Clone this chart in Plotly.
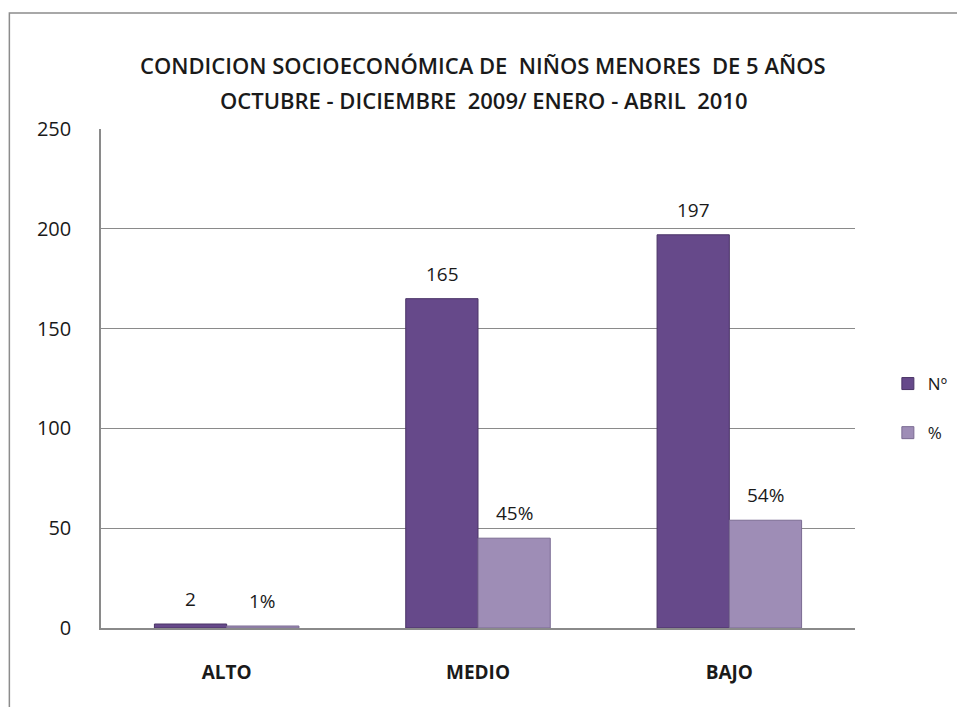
import plotly.graph_objects as go

categories = ["ALTO", "MEDIO", "BAJO"]
num_values = [2, 165, 197]
pct_values = [1, 45, 54]
pct_labels = ["1%", "45%", "54%"]
title_lines = ["CONDICION SOCIOECONÓMICA DE  NIÑOS MENORES  DE 5 AÑOS",
               "OCTUBRE - DICIEMBRE  2009/ ENERO - ABRIL  2010"]

# page has an 8px body margin, so figure coords = reference px - 8
OFF = 8
W, H = 957, 699
ML, MR, MT, MB = 93, 107, 121, 79
PW, PH = W - ML - MR, H - MT - MB

def px_x(p):
    return (p - OFF - ML) / PW

def px_y(p):
    return (H - MB - (p - OFF)) / PH

FONT = "Open Sans, sans-serif"
TXT = "#1a1a1a"

fig = go.Figure()
fig.add_trace(go.Bar(
    name="Nº", x=categories, y=num_values,
    marker=dict(color="#66498A", line=dict(color="#4A3466", width=1)),
    legendgroup="a",
))
fig.add_trace(go.Bar(
    name="%", x=categories, y=pct_values,
    marker=dict(color="#9E8DB6", line=dict(color="#7A6B92", width=1)),
    legendgroup="b",
))

font_txt = dict(family=FONT, size=19, color=TXT)
for c, v in zip(categories, num_values):
    fig.add_annotation(x=c, y=v, text=str(v), showarrow=False, xshift=-36,
                       yanchor="bottom", yshift=10, font=font_txt)
for c, v, t in zip(categories, pct_values, pct_labels):
    fig.add_annotation(x=c, y=v, text=t, showarrow=False, xshift=36,
                       yanchor="bottom", yshift=10, font=font_txt)

title_font = dict(family=FONT, size=22, color=TXT, weight=600)
fig.add_annotation(xref="paper", yref="paper", x=px_x(485), y=px_y(65),
                   text=title_lines[0], showarrow=False,
                   font=title_font, yanchor="middle")
fig.add_annotation(xref="paper", yref="paper", x=px_x(485), y=px_y(100),
                   text=title_lines[1], showarrow=False,
                   font=title_font, yanchor="middle")

# outer chart border (left and top)
fig.add_shape(type="rect", xref="paper", yref="paper",
              x0=px_x(9), y0=px_y(720), x1=px_x(980), y1=px_y(13),
              line=dict(color="#8c8c8c", width=1.5), layer="below")

fig.update_layout(
    width=W, height=H,
    margin=dict(l=ML, r=MR, t=MT, b=MB),
    paper_bgcolor="white", plot_bgcolor="white",
    barmode="group", bargap=0.425, bargroupgap=0,
    font=dict(family=FONT, color=TXT),
    showlegend=True,
    legend=dict(x=px_x(891), y=px_y(366), xanchor="left", yanchor="top",
                font=dict(size=17, color=TXT), tracegroupgap=24,
                bgcolor="rgba(0,0,0,0)"),
)
fig.update_yaxes(range=[0, 250], dtick=50, showgrid=True, gridcolor="#8a8a8a",
                 gridwidth=1, zeroline=False, showline=True, linecolor="#8a8a8a",
                 linewidth=1.5,
                 tickfont=dict(size=20, color=TXT), ticklabelstandoff=24)
fig.update_xaxes(showline=True, linecolor="#8a8a8a", linewidth=1.5,
                 tickfont=dict(size=19, color=TXT, family=FONT, weight="bold"),
                 ticklabelstandoff=26)

fig.write_html("out.html")
